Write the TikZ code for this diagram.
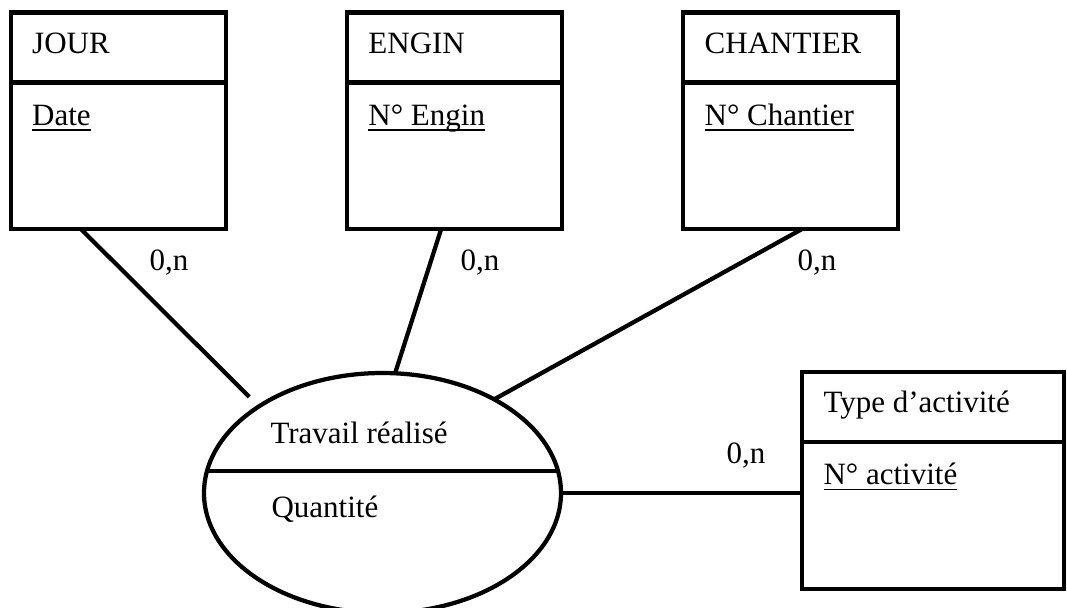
\documentclass[tikz,border=0pt]{standalone}
\usepackage{fontspec}
\setmainfont{Liberation Serif}
\usetikzlibrary{positioning,shapes.geometric}
\newsavebox{\identbox}
\newcommand{\ident}[1]{\sbox{\identbox}{#1}\rlap{\rule[-2.2pt]{\wd\identbox}{0.6pt}}\usebox{\identbox}}
\tikzset{%
	% Styles des elements du MCD:
	base/.style = {draw=black, line width=1.7pt, inner sep=0pt, outer sep=0pt},
	entite/.style = {base, rectangle, minimum width=86pt, minimum height=86.6pt,
		path picture={\draw[line width=1.7pt]
			([yshift=-28pt]path picture bounding box.north west) --
			([yshift=-28pt]path picture bounding box.north east);}},
	entitelarge/.style = {entite, minimum width=104.8pt},
	relation/.style = {base, ellipse, minimum width=142.8pt, minimum height=96pt,
		path picture={\draw[line width=1.7pt]
			([yshift=8.9pt]path picture bounding box.west) --
			([yshift=8.9pt]path picture bounding box.east);}},
	texte/.style = {inner sep=0pt, anchor=base west,
		font=\fontsize{12.4}{15}\selectfont},
	lien/.style = {line width=1.7pt},
}

\begin{document}
\begin{tikzpicture}[x=0.4pt, y=0.4pt, node distance=48.5pt]
\useasboundingbox (0,0) rectangle (1067,-607);
%% Entites et relation
\node (jour)     [entite] at (118.2,-120.75) {};
\node (engin)    [entite, right=of jour] {};
\node (chantier) [entite, right=of engin] {};
\node (activite) [entitelarge] at (933,-480.5) {};
\node (travail)  [relation] at (382.5,-493) {};

%% Textes des boites
\node (jourtitre)     [texte] at ([xshift=8.4pt, yshift=-16.2pt]jour.north west) {JOUR};
\node (jourcle)       [texte] at ([xshift=8.4pt, yshift=-45pt]jour.north west) {\ident{Date}};
\node (engintitre)    [texte] at ([xshift=8.4pt, yshift=-16.2pt]engin.north west) {ENGIN};
\node (engincle)      [texte] at ([xshift=8.4pt, yshift=-45pt]engin.north west) {\ident{N° Engin}};
\node (chantiertitre) [texte] at ([xshift=8.4pt, yshift=-16.2pt]chantier.north west) {CHANTIER};
\node (chantiercle)   [texte] at ([xshift=8.4pt, yshift=-45pt]chantier.north west) {\ident{N° Chantier}};
\node (activitetitre) [texte] at ([xshift=8.4pt, yshift=-16.2pt]activite.north west) {Type d’activité};
\node (activitecle)   [texte] at ([xshift=8.4pt, yshift=-45pt]activite.north west) {\ident{N° activité}};
\node (travailnom)    [texte] at ([xshift=-45pt, yshift=20pt]travail.center) {Travail réalisé};
\node (travailprop)   [texte] at ([xshift=-44.6pt, yshift=-9.6pt]travail.center) {Quantité};

%% Cardinalites
\node (cardjour)     [texte] at (149,-270) {0,n};
\node (cardengin)    [texte] at (460,-270) {0,n};
\node (cardchantier) [texte] at (797,-270) {0,n};
\node (cardactivite) [texte] at (726,-463) {0,n};

%% Liens entre entites et relation
\draw[lien, shorten >=5.4pt] (jour.251.5) -- (travail.145.4);
\draw[lien]      (engin.263.7) -- (travail.84);
\draw[lien]      (chantier.276.5) -- (travail.40.9);
\draw[lien]      (travail.east) -- (travail.east -| activite.west);
\end{tikzpicture}
\end{document}
